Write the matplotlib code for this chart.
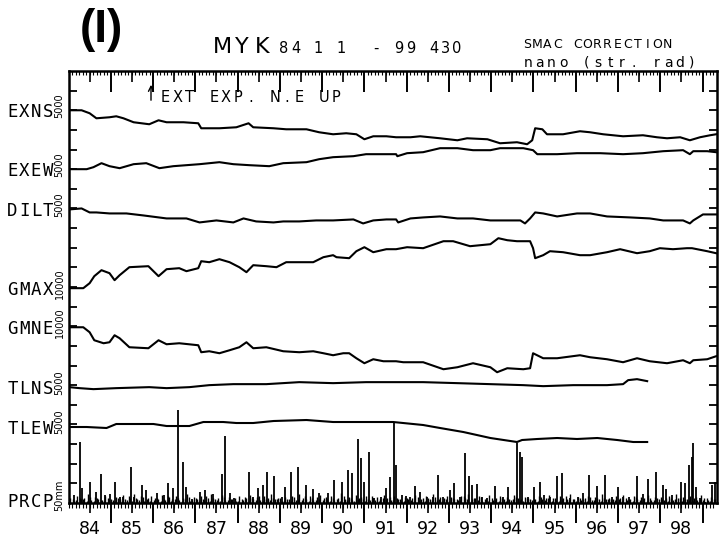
import numpy as np
import matplotlib
matplotlib.use("Agg")
import matplotlib.pyplot as plt
from matplotlib.transforms import blended_transform_factory
from matplotlib.ticker import FixedLocator, NullFormatter, NullLocator

# ---------------- data (decimal years, strain/tilt in nano, rain in mm) ----------------
exns_t = [84.02, 84.31, 84.50, 84.66, 84.97, 85.13, 85.30, 85.54, 85.91, 86.13, 86.32, 86.72,
          87.07, 87.14, 87.57, 87.97, 88.26, 88.37, 88.85, 89.15, 89.63, 89.93, 90.26, 90.57,
          90.81, 91.00, 91.21, 91.52, 91.75, 92.09, 92.32, 92.79, 93.20, 93.43, 93.91, 94.21,
          94.61, 94.85, 94.97, 95.04, 95.21, 95.32, 95.70, 96.10, 96.34, 96.65, 97.12, 97.59,
          97.92, 98.16, 98.47, 98.70, 98.94, 99.18, 99.32]
exns_v = [0, 0, -760, -2040, -1780, -1530, -2040, -3050, -3560, -2550, -3050, -3050,
          -3310, -4580, -4580, -4330, -3310, -4330, -4580, -4840, -4840, -5600, -6110, -5850,
          -6110, -7380, -6620, -6620, -6870, -6870, -6620, -7130, -7640, -7130, -7380, -8400,
          -8140, -8650, -7640, -4580, -4840, -6110, -6110, -5340, -5600, -6110, -6620, -6360,
          -6870, -7130, -6870, -7640, -6870, -6360, -6110]

exew_t = [84.02, 84.43, 84.59, 84.78, 84.97, 85.21, 85.54, 85.84, 86.15, 86.48, 87.10, 87.57,
          87.90, 88.28, 88.75, 89.08, 89.63, 89.93, 90.26, 90.74, 91.04, 91.45, 91.75, 91.78,
          92.01, 92.39, 92.79, 93.20, 93.57, 93.98, 94.21, 94.76, 94.99, 95.09, 95.56, 96.03,
          96.58, 97.12, 97.59, 98.07, 98.54, 98.70, 98.78, 99.11, 99.32]
exew_v = [0, 0, 509, 1527, 764, 254, 1273, 1527, 254, 764, 1273, 1782,
          1273, 1018, 764, 1527, 1782, 2545, 3054, 3309, 3818, 3818, 3818, 3309,
          4072, 4327, 5345, 5345, 4836, 4836, 5345, 5345, 4836, 3818, 3818, 4072,
          4072, 3818, 4072, 4581, 4836, 3818, 4581, 4581, 4327]

dilt_t = [84.02, 84.31, 84.50, 84.66, 84.97, 85.37, 85.77, 86.32, 86.79, 87.10, 87.50, 87.90,
          88.14, 88.44, 88.85, 89.08, 89.46, 89.86, 90.26, 90.74, 90.97, 91.21, 91.52, 91.75,
          91.80, 92.09, 92.39, 92.79, 93.20, 93.57, 93.98, 94.21, 94.69, 94.80, 94.92, 95.04,
          95.23, 95.56, 96.03, 96.34, 96.74, 97.29, 97.75, 98.07, 98.54, 98.70, 98.78, 99.01, 99.32]
dilt_v = [0, 254, -764, -764, -1018, -1018, -1527, -2291, -2291, -3309, -2800, -3309,
          -2291, -3054, -3309, -3054, -3054, -2800, -2800, -2545, -3563, -2800, -2545, -2545,
          -3309, -2291, -2036, -1782, -2291, -2291, -2800, -2800, -2800, -3563, -2291, -764,
          -1018, -1782, -1018, -1018, -1782, -2036, -2291, -2800, -2800, -3563, -2800, -1273, -1273]

gmax_t = [84.02, 84.35, 84.50, 84.61, 84.78, 84.97, 85.09, 85.21, 85.44, 85.89, 86.13, 86.32,
          86.62, 86.79, 87.07, 87.14, 87.33, 87.57, 87.81, 88.04, 88.21, 88.37, 88.68, 88.92,
          89.15, 89.46, 89.79, 90.03, 90.26, 90.34, 90.64, 90.81, 91.00, 91.21, 91.52, 91.75,
          92.01, 92.39, 92.87, 93.10, 93.50, 93.98, 94.17, 94.38, 94.61, 94.92, 94.99, 95.04,
          95.23, 95.39, 95.70, 96.10, 96.34, 96.74, 97.05, 97.45, 97.75, 97.99, 98.30, 98.63,
          98.75, 99.11, 99.32]
gmax_v = [0, 0, 2545, 6108, 9162, 7635, 4072, 6617, 10690, 11200, 6108, 9671,
          10180, 8653, 10180, 13740, 13230, 14760, 13230, 10690, 8144, 11710, 11200, 10690,
          13230, 13230, 13230, 15780, 16800, 15780, 15270, 18830, 20870, 18320, 19850, 19850,
          20870, 20360, 23920, 23920, 21380, 22390, 25450, 24430, 23920, 23920, 20360, 15270,
          16800, 18830, 18320, 16800, 16800, 18320, 19850, 17810, 18830, 20360, 19850, 20360,
          20360, 18830, 17810]

gmne_t = [84.02, 84.35, 84.50, 84.61, 84.83, 84.97, 85.09, 85.21, 85.44, 85.89, 86.13, 86.32,
          86.62, 87.07, 87.14, 87.33, 87.57, 87.81, 88.04, 88.21, 88.37, 88.68, 89.08, 89.46,
          89.79, 90.03, 90.26, 90.50, 90.64, 90.81, 91.00, 91.21, 91.45, 91.75, 91.92, 92.39,
          92.87, 93.20, 93.57, 93.98, 94.14, 94.38, 94.76, 94.92, 94.99, 95.23, 95.56, 96.10,
          96.34, 96.74, 97.12, 97.45, 97.75, 98.16, 98.54, 98.70, 98.78, 99.11, 99.32]
gmne_v = [0, 0, -2545, -6617, -8144, -7635, -4072, -5599, -10180, -10690, -6617, -8653,
          -8144, -9162, -12720, -12220, -13230, -11710, -10180, -7635, -10690, -10180, -12220, -12720,
          -12220, -13230, -14250, -13230, -13230, -15780, -18320, -16290, -17310, -17310, -17810, -17810,
          -21380, -20360, -18320, -20360, -22900, -20870, -21380, -20870, -13230, -15780, -15780, -14250,
          -15270, -16290, -17810, -15780, -17310, -18320, -16800, -18320, -16800, -16290, -14760]

tlns_t = [84.02, 84.26, 84.59, 85.13, 85.91, 86.32, 86.86, 87.33, 87.90, 88.68, 89.46, 90.26,
          91.04, 91.75, 92.39, 93.20, 93.98, 94.76, 95.23, 95.94, 96.74, 97.12, 97.24, 97.45, 97.69]
tlns_v = [0, -254, -509, -254, 0, -254, 0, 509, 764, 764, 1273, 1018,
          1273, 1273, 1273, 1018, 764, 509, 254, 509, 509, 764, 1782, 2036, 1527]

tlew_t = [84.02, 84.43, 84.90, 85.13, 85.54, 86.01, 86.32, 86.86, 87.19, 87.66, 87.97, 88.37,
          88.85, 89.63, 90.26, 90.88, 91.68, 92.39, 92.79, 93.34, 93.98, 94.61, 94.73, 95.09,
          95.56, 96.03, 96.51, 96.98, 97.36, 97.69]
tlew_v = [0, 0, -254, 764, 764, 764, 254, 254, 1273, 1273, 1018, 1018,
          1527, 1782, 1273, 1273, 1273, 509, -254, -1273, -2800, -3818, -3309, -3054,
          -2800, -3054, -2800, -3309, -3818, -3818]

prcp_t = [84.02, 84.14, 84.28, 84.33, 84.52, 84.66, 84.78, 84.87, 84.97, 85.11, 85.21, 85.30,
          85.49, 85.56, 85.73, 85.84, 86.10, 86.25, 86.36, 86.48, 86.60, 86.72, 86.77, 86.91,
          87.10, 87.22, 87.43, 87.62, 87.71, 87.81, 87.92, 88.26, 88.37, 88.49, 88.61, 88.70,
          88.87, 89.04, 89.13, 89.27, 89.44, 89.63, 89.79, 89.93, 90.15, 90.29, 90.48, 90.62,
          90.71, 90.86, 90.93, 91.00, 91.12, 91.23, 91.40, 91.52, 91.61, 91.71, 91.75, 91.90,
          91.99, 92.09, 92.20, 92.32, 92.49, 92.63, 92.75, 92.87, 93.03, 93.13, 93.27, 93.39,
          93.48, 93.55, 93.67, 93.79, 93.91, 94.09, 94.28, 94.40, 94.61, 94.69, 94.73, 94.87,
          95.02, 95.16, 95.25, 95.39, 95.56, 95.68, 95.87, 96.06, 96.17, 96.32, 96.51, 96.69,
          96.86, 97.00, 97.12, 97.26, 97.45, 97.59, 97.71, 97.90, 98.07, 98.14, 98.28, 98.49,
          98.59, 98.68, 98.75, 98.78, 98.85, 98.94, 99.06, 99.22, 99.30]
prcp_v = [15, 20, 155, 38, 53, 28, 74, 20, 23, 53, 15, 15,
          92, 15, 46, 33, 25, 20, 51, 38, 237, 104, 41, 10,
          28, 33, 23, 74, 171, 25, 13, 79, 15, 38, 46, 79,
          69, 15, 41, 79, 92, 46, 36, 25, 25, 59, 53, 84,
          76, 163, 115, 53, 130, 13, 15, 38, 66, 206, 97, 20,
          18, 15, 43, 28, 15, 15, 71, 15, 33, 51, 15, 127,
          69, 46, 48, 15, 13, 43, 15, 41, 153, 130, 117, 15,
          41, 53, 20, 15, 69, 76, 13, 15, 25, 71, 43, 71,
          15, 41, 15, 15, 69, 23, 61, 79, 46, 36, 20, 53,
          51, 97, 117, 153, 41, 13, 3, 46, 53]

# background rain (mm): two readings per month, one row per year 1984..1999 (1999 to April)
prcp_mid_month = [
    [12, 6, 18, 9, 14, 22, 8, 16, 11, 7, 19, 10],
    [8, 15, 10, 20, 7, 13, 24, 9, 17, 6, 12, 18],
    [14, 9, 21, 7, 16, 11, 19, 8, 13, 22, 6, 15],
    [10, 18, 7, 14, 23, 9, 12, 20, 8, 16, 11, 6],
    [17, 8, 13, 21, 10, 15, 7, 19, 12, 24, 9, 14],
    [6, 16, 11, 19, 8, 22, 13, 10, 18, 7, 15, 20],
    [12, 9, 17, 7, 14, 25, 11, 16, 8, 20, 13, 10],
    [18, 7, 12, 15, 9, 21, 14, 8, 19, 11, 6, 16],
    [9, 14, 20, 8, 13, 17, 10, 22, 7, 15, 12, 18],
    [16, 10, 8, 19, 12, 23, 9, 14, 17, 6, 11, 20],
    [7, 13, 18, 10, 15, 8, 21, 12, 9, 16, 14, 7],
    [11, 17, 9, 14, 20, 12, 8, 18, 13, 10, 22, 9],
    [15, 8, 12, 19, 7, 16, 11, 24, 10, 14, 9, 18],
    [13, 20, 8, 11, 17, 9, 15, 12, 21, 7, 16, 10],
    [9, 14, 19, 8, 23, 12, 16, 10, 18, 13, 7, 20],
    [12, 8, 15, 10],
]
prcp_early_month = [
    [5, 11, 7, 14, 9, 4, 16, 6, 12, 8, 5, 13],
    [10, 4, 14, 6, 11, 17, 5, 12, 7, 15, 9, 4],
    [7, 13, 5, 11, 18, 6, 9, 14, 4, 10, 16, 8],
    [12, 5, 9, 17, 6, 13, 8, 4, 15, 7, 11, 14],
    [4, 10, 16, 6, 12, 8, 18, 5, 11, 7, 13, 9],
    [14, 6, 9, 4, 15, 11, 7, 17, 5, 12, 8, 10],
    [8, 15, 5, 12, 9, 6, 19, 7, 13, 4, 10, 16],
    [6, 11, 17, 8, 5, 14, 10, 16, 7, 12, 9, 5],
    [13, 7, 4, 15, 10, 6, 12, 8, 16, 9, 5, 11],
    [5, 14, 11, 7, 17, 9, 4, 13, 8, 15, 10, 6],
    [12, 8, 6, 14, 5, 11, 9, 16, 7, 4, 13, 10],
    [9, 5, 15, 8, 12, 4, 14, 6, 10, 17, 7, 11],
    [6, 13, 10, 5, 16, 8, 12, 4, 14, 9, 11, 7],
    [11, 4, 14, 9, 6, 15, 7, 10, 5, 13, 8, 12],
    [16, 7, 5, 12, 9, 14, 6, 11, 8, 4, 15, 9],
    [7, 13, 6, 11],
]

channel_names = ["EXNS", "EXEW", "DILT", "GMAX", "GMNE", "TLNS", "TLEW", "PRCP"]
scale_labels = ["5000", "5000", "5000", "10000", "10000", "5000", "5000", "50mm"]
year_labels = ["84", "85", "86", "87", "88", "89", "90", "91", "92", "93", "94", "95", "96", "97", "98"]

# ---------------- layout ----------------
W, H = 720, 546
fig = plt.figure(figsize=(7.2, 5.46), dpi=100)
ax = fig.add_axes([68.5 / W, 1 - 503 / H, 648 / W, 432 / H])
ax.set_xlim(1984, 1999.33)
ax.set_ylim(0, 22)

offsets = [20.0, 17.0, 14.95, 10.94, 8.95, 5.9, 3.87, 0.0]
scales = [5000, 5000, 5000, 10000, 10000, 5000, 5000, 50]
series = [(exns_t, exns_v), (exew_t, exew_v), (dilt_t, dilt_v), (gmax_t, gmax_v),
          (gmne_t, gmne_v), (tlns_t, tlns_v), (tlew_t, tlew_v)]

for (t, v), off, sc in zip(series, offsets, scales):
    ax.plot(1900 + np.array(t), off + np.array(v) / sc, color="black", lw=1.5)

# precipitation
for rows, phase in ((prcp_mid_month, 0.5), (prcp_early_month, 0.15)):
    bt, bv = [], []
    for yi, row in enumerate(rows):
        for mi, val in enumerate(row):
            bt.append(1984 + yi + (mi + phase) / 12)
            bv.append(val)
    ax.vlines(bt, 0, np.array(bv) / scales[7], color="black", lw=1.0)
ax.vlines(1900 + np.array(prcp_t), 0, np.array(prcp_v) / scales[7], color="black", lw=1.3)

for s in ax.spines.values():
    s.set_linewidth(1.8)

years = np.arange(1984, 2000)
months = np.arange(1984, 1999.34, 1 / 12)

# bottom ruler
ax.xaxis.set_major_locator(FixedLocator(years[1:]))
ax.xaxis.set_minor_locator(FixedLocator(months))
ax.xaxis.set_major_formatter(NullFormatter())
ax.tick_params(axis="x", which="major", direction="out", length=14.5, width=1.4,
               top=False, bottom=True)
ax.tick_params(axis="x", which="minor", direction="out", length=3.5, width=0.8,
               top=False, bottom=True)
# left/right ticks
ax.yaxis.set_major_locator(FixedLocator(np.arange(1, 22)))
ax.yaxis.set_major_formatter(NullFormatter())
ax.yaxis.set_minor_locator(NullLocator())
ax.tick_params(axis="y", which="major", direction="in", length=5.5, width=1.3,
               left=True, right=True)

sb = ax.secondary_xaxis("bottom")
sb.set_xticks(years[:-1] + 0.5, labels=year_labels)
sb.xaxis.set_minor_locator(NullLocator())
sb.tick_params(direction="out", length=7, width=1.2, pad=5, labelsize=12.5)
sb.spines["bottom"].set_visible(False)

st = ax.secondary_xaxis("top")
st.xaxis.set_major_locator(FixedLocator(years[1:]))
st.xaxis.set_minor_locator(FixedLocator(months))
st.xaxis.set_major_formatter(NullFormatter())
st.tick_params(which="major", direction="in", length=15, width=1.4)
st.tick_params(which="minor", direction="in", length=3, width=0.8)
st.spines["top"].set_visible(False)

st2 = ax.secondary_xaxis("top")
st2.xaxis.set_major_locator(FixedLocator(years[:-1] + 0.5))
st2.xaxis.set_minor_locator(NullLocator())
st2.xaxis.set_major_formatter(NullFormatter())
st2.tick_params(which="major", direction="in", length=8, width=1.2)
st2.spines["top"].set_visible(False)

# channel labels
tr = blended_transform_factory(fig.transFigure, ax.transData)
for name, sl, off in zip(channel_names, scale_labels, offsets):
    yl = off if off > 0 else 0.15
    for i, c in enumerate(name):
        ax.text((12.5 + i * 11.8) / W, yl - 0.08, c, transform=tr, ha="center", va="center",
                fontsize=12.5, family="DejaVu Sans Mono", color="black")
    ax.text(59.5 / W, yl + 0.25, sl, transform=tr, rotation=90, ha="center", va="center",
            fontsize=7, color="black")


def ptext(s, x0, y, pitch, **kw):
    for i, c in enumerate(s):
        if c != " ":
            fig.text((x0 + i * pitch) / W, 1 - y / H, c, ha="center", va="baseline", **kw)


fig.text(101 / W, 1 - 42 / H, "(I)", fontsize=33, fontweight="bold",
         family="Liberation Sans", ha="center", va="baseline")
ptext("MYK", 222, 53, 20, fontsize=16)
ptext("84 1 1  - 99 430", 284, 53, 11.5, fontsize=10.5)
ptext("SMAC CORRECTION", 527.5, 48, 10, fontsize=9)
ptext("nano (str. rad)", 528, 67, 11.7, fontsize=10)
ptext("EXT EXP. N.E UP", 165, 102, 12.2, fontsize=10.5)
ax.annotate("", xy=(151, H - 82), xytext=(151, H - 103), xycoords="figure pixels",
            textcoords="figure pixels",
            arrowprops=dict(arrowstyle="->", lw=1.0, color="black", mutation_scale=9))

fig.savefig("out.png", dpi=100)
